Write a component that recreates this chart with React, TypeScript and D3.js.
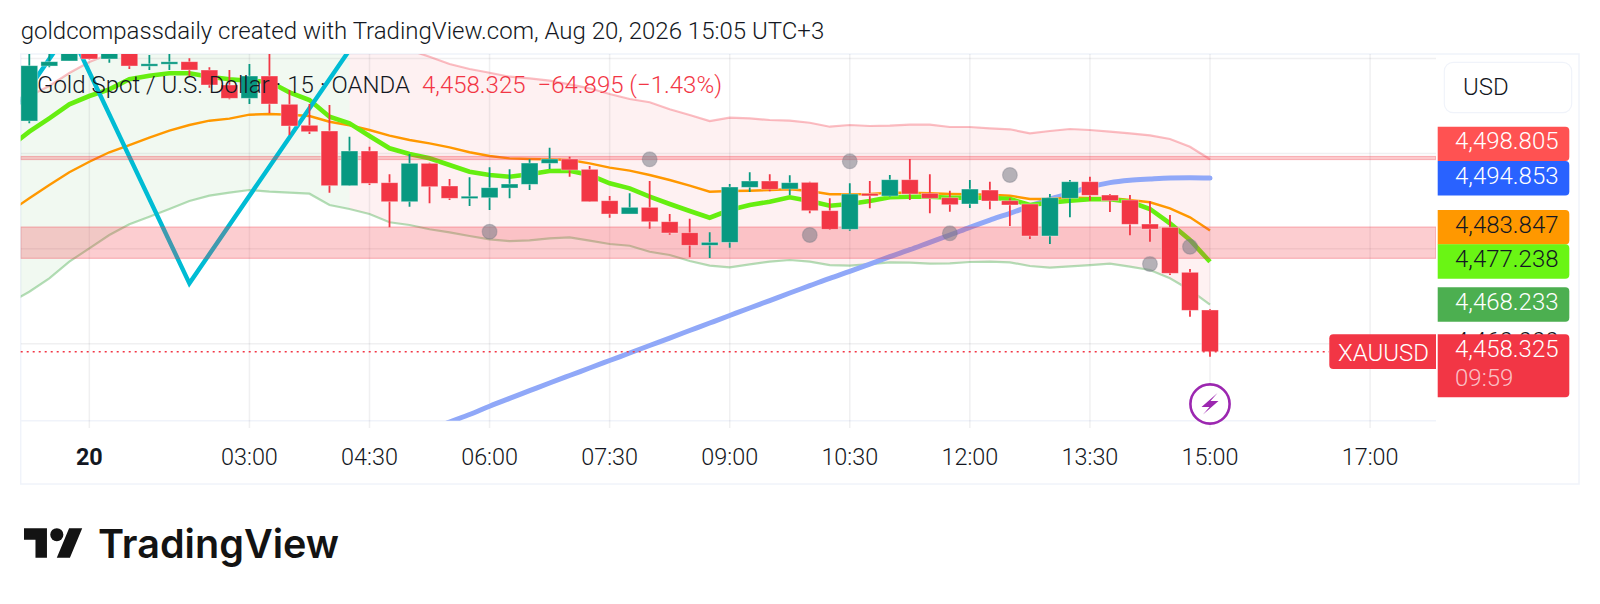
import * as d3 from 'd3';

// [open, high, low, close] for each 15 min bar
const candles: number[][] = [
  [4506.86, 4523.9, 4506.38, 4518.5],
  [4518.43, 4521.8, 4518.16, 4519.34],
  [4519.49, 4522.64, 4519.49, 4521.8],
  [4522.22, 4522.85, 4519.8, 4519.91],
  [4519.91, 4522.64, 4519.13, 4522.22],
  [4521.8, 4522.43, 4517.8, 4518.43],
  [4518.69, 4520.75, 4517.59, 4518.9],
  [4519.11, 4520.96, 4517.59, 4519.32],
  [4519.34, 4520.05, 4516.33, 4517.59],
  [4517.59, 4518.16, 4513.87, 4514.44],
  [4514.44, 4517.59, 4511.43, 4511.64],
  [4511.64, 4518.85, 4510.44, 4516.33],
  [4516.33, 4522.22, 4508.48, 4510.44],
  [4510.38, 4513.38, 4503.92, 4505.81],
  [4505.96, 4510.44, 4504.13, 4504.61],
  [4504.76, 4510.23, 4491.78, 4493.25],
  [4493.25, 4503.56, 4493.25, 4500.55],
  [4500.55, 4501.45, 4493.4, 4493.75],
  [4493.88, 4495.65, 4484.5, 4489.88],
  [4489.88, 4499.92, 4488.83, 4497.96],
  [4497.96, 4498.09, 4489.55, 4493.04],
  [4493.19, 4494.66, 4490.24, 4490.6],
  [4490.83, 4495.02, 4488.98, 4491.04],
  [4490.72, 4497.12, 4488.14, 4492.83],
  [4492.76, 4496.7, 4490.6, 4493.61],
  [4493.54, 4498.8, 4492.34, 4498.02],
  [4497.96, 4501.24, 4496.76, 4498.87],
  [4498.87, 4499.35, 4495.14, 4496.55],
  [4496.7, 4497.39, 4489.88, 4489.88],
  [4490.09, 4491.08, 4486.52, 4487.29],
  [4487.29, 4491.65, 4487.29, 4488.7],
  [4488.7, 4494.24, 4484.2, 4485.67],
  [4485.67, 4487.29, 4482.94, 4483.3],
  [4483.36, 4486.31, 4478.18, 4480.71],
  [4480.71, 4483.44, 4478.04, 4481.34],
  [4481.34, 4493.61, 4480.2, 4492.98],
  [4492.91, 4496.07, 4491.92, 4494.24],
  [4494.24, 4495.65, 4492.07, 4492.49],
  [4492.55, 4495.44, 4491.29, 4493.88],
  [4493.96, 4494.09, 4487.44, 4487.99],
  [4487.99, 4490.6, 4483.93, 4484.08],
  [4484.08, 4493.75, 4483.78, 4491.5],
  [4491.61, 4494.24, 4488.49, 4491.4],
  [4491.08, 4495.5, 4490.93, 4494.51],
  [4494.51, 4498.87, 4490.24, 4491.5],
  [4491.65, 4495.65, 4487.44, 4490.6],
  [4490.72, 4492.2, 4487.78, 4489.25],
  [4489.4, 4494.45, 4488.56, 4492.55],
  [4492.34, 4494.09, 4488.28, 4490.03],
  [4490.09, 4490.6, 4484.77, 4489.19],
  [4489.4, 4489.4, 4482.03, 4482.67],
  [4482.67, 4491.5, 4480.98, 4490.72],
  [4490.6, 4494.45, 4486.6, 4494.09],
  [4494.09, 4495.14, 4490.09, 4491.23],
  [4491.29, 4491.5, 4487.72, 4490.09],
  [4490.24, 4491.29, 4482.81, 4485.13],
  [4485.19, 4489.97, 4481.47, 4484.14],
  [4484.5, 4487.08, 4474.46, 4474.82],
  [4475.03, 4475.72, 4465.69, 4467.03],
  [4467.1, 4467.31, 4457.27, 4458.325],
];

// indicator series start one bar before the first candle, off the left edge
const fastMa = [
  4501.39, 4504.61, 4507.43, 4510.38, 4512.12, 4513.53, 4515.64, 4516.39, 4516.9, 4516.9, 4516.18, 4515.64, 4515.34,
  4515.13, 4512.9, 4511.28, 4507.77, 4506.38, 4503.71, 4501.12, 4499.92, 4499.01, 4497.6, 4496.19, 4495.5, 4495.14,
  4495.65, 4496.34, 4496.41, 4495.5, 4493.75, 4492.7, 4490.93, 4489.4, 4487.93, 4486.52, 4488.14, 4489.19, 4489.88,
  4490.81, 4490.03, 4489.04, 4489.4, 4490.03, 4490.81, 4490.93, 4490.93, 4490.72, 4490.72, 4490.72, 4490.45, 4489.19,
  4489.67, 4490.09, 4490.39, 4490.39, 4489.88, 4488.35, 4485.34, 4481.82, 4477.238,
];
const slowMa = [
  4487.72, 4490.6, 4493.4, 4496.07, 4498.3, 4500.28, 4501.81, 4503.35, 4504.82, 4506.02, 4506.93, 4507.35, 4508.19,
  4508.33, 4508.19, 4507.91, 4506.71, 4505.96, 4504.97, 4503.77, 4502.86, 4502.17, 4501.33, 4500.28, 4499.5, 4499.01,
  4498.87, 4498.8, 4498.66, 4497.96, 4497.04, 4496.41, 4495.5, 4494.45, 4493.25, 4491.99, 4492.13, 4492.2, 4492.34,
  4492.49, 4492.13, 4491.44, 4491.44, 4491.5, 4491.78, 4491.78, 4491.65, 4491.5, 4491.44, 4491.36, 4491.15, 4490.45,
  4490.45, 4490.72, 4490.66, 4490.66, 4490.24, 4489.76, 4488.49, 4486.6, 4483.847,
];
const upperBand = [
  4510.02, 4512.12, 4514.23, 4516.96, 4519.28, 4520.96, 4522.64, 4523.9, 4524.96, 4526.01, 4526.64, 4527.06, 4527.27,
  4527.06, 4526.64, 4526.01, 4525.17, 4524.32, 4523.48, 4522.64, 4521.8, 4520.39, 4518.85, 4517.8, 4517.02, 4516.18,
  4515.85, 4515.34, 4514.58, 4513.74, 4512.54, 4511.49, 4510.8, 4509.32, 4508.12, 4506.86, 4507.56, 4507.43, 4507.07,
  4506.93, 4506.5, 4505.66, 4506.02, 4505.81, 4505.87, 4506.08, 4506.08, 4505.6, 4505.6, 4505.33, 4505.12, 4504.27,
  4504.76, 4505.18, 4504.97, 4504.61, 4504.27, 4503.85, 4503.07, 4501.45, 4498.805,
];
const lowerBand = [
  4468.57, 4470.95, 4473.77, 4477.26, 4480.08, 4482.88, 4485.13, 4486.73, 4488.35, 4490.03, 4491.15, 4491.78, 4492.34,
  4491.99, 4491.78, 4491.57, 4489.19, 4488.35, 4487.29, 4485.55, 4484.98, 4484.08, 4483.44, 4482.67, 4481.97, 4481.61,
  4481.76, 4482.18, 4482.39, 4481.68, 4480.98, 4480.62, 4479.36, 4478.67, 4477.41, 4476.42, 4476.08, 4476.71, 4477.26,
  4477.62, 4477.26, 4476.56, 4476.42, 4476.77, 4477.13, 4477.05, 4476.84, 4476.92, 4477.2, 4477.26, 4477.13, 4476.35,
  4476.0, 4476.29, 4476.56, 4476.84, 4476.21, 4475.51, 4473.77, 4471.3, 4468.233,
];
// long MA is only on screen from bar 20
const longMaStart = 20;
const longMa = [
  4441.85, 4443.53, 4445.11, 4446.85, 4448.5, 4450.12, 4451.74, 4453.32, 4454.89, 4456.47, 4458.05, 4459.63, 4461.2,
  4462.78, 4464.36, 4465.94, 4467.52, 4469.09, 4470.67, 4472.21, 4473.77, 4475.24, 4476.77, 4478.31, 4479.78, 4481.34,
  4482.88, 4484.5, 4486.03, 4487.44, 4488.98, 4490.45, 4491.65, 4492.98, 4493.9, 4494.4, 4494.66, 4494.87, 4494.93,
  4494.853,
];
const zigzag: [number, number][] = [
  [-1, 4507.7],
  [2, 4526.01],
  [8, 4472.71],
  [16, 4521.8],
  [19, 4540.23],
];
const signals: [number, number][] = [
  [23, 4483.57],
  [31, 4498.8],
  [39, 4482.88],
  [41, 4498.38],
  [46, 4483.23],
  [49, 4495.5],
  [56, 4476.77],
  [58, 4480.41],
];
const zones: [number, number][] = [
  [4499.4, 4498.76],
  [4484.56, 4477.97],
];
const bandColorSwitch = 16;
const timeTicks: [number, string][] = [
  [3, '20'],
  [11, '03:00'],
  [17, '04:30'],
  [23, '06:00'],
  [29, '07:30'],
  [35, '09:00'],
  [41, '10:30'],
  [47, '12:00'],
  [53, '13:30'],
  [59, '15:00'],
  [67, '17:00'],
];
const priceTicks = [4460, 4480, 4500, 4520];
const lastPrice = 4458.325;
const priceLabels = [
  { text: '4,498.805', fill: '#ff5252', color: '#fff', top: 126.7, base: 149 },
  { text: '4,494.853', fill: '#2962ff', color: '#fff', top: 161, base: 183.5 },
  { text: '4,483.847', fill: '#ff9800', color: '#131722', top: 210, base: 232.5 },
  { text: '4,477.238', fill: '#6af514', color: '#131722', top: 244.3, base: 267 },
  { text: '4,468.233', fill: '#4caf50', color: '#fff', top: 287.3, base: 310 },
];

const UP = '#089981';
const DOWN = '#f23645';
const FONT = 'Roboto, sans-serif';
const TEXT_WEIGHT = 300;
const TEXT_SIZE = 24;

const paneLeft = 20.7;
const paneRight = 1436;
const paneTop = 54;
const paneBottom = 420.7;

const x = d3.scaleLinear().domain([0, 59]).range([29.3, 1210]);
const y = d3.scaleLinear().domain([lastPrice, 4498.805]).range([351.7, 159.3]);

const seriesLine = d3
  .line<number>()
  .x((_, i) => x(i - 1))
  .y((d) => y(d));

const longLine = d3
  .line<number>()
  .x((_, i) => x(i + longMaStart))
  .y((d) => y(d))
  .curve(d3.curveMonotoneX);

const zigzagLine = d3
  .line<[number, number]>()
  .x((d) => x(d[0]))
  .y((d) => y(d[1]));

const bandArea = d3
  .area<number>()
  .x((i) => x(i - 1))
  .y0((i) => y(lowerBand[i]))
  .y1((i) => y(upperBand[i]));

const bandIdx = upperBand.map((_, i) => i);
const greenBand = bandIdx.filter((i) => i - 1 <= bandColorSwitch);
const redBand = bandIdx.filter((i) => i - 1 >= bandColorSwitch);

const rightRounded = (x0: number, y0: number, w: number, h: number, r: number) =>
  `M${x0},${y0}H${x0 + w - r}Q${x0 + w},${y0} ${x0 + w},${y0 + r}V${y0 + h - r}Q${x0 + w},${y0 + h} ${x0 + w - r},${y0 + h}H${x0}Z`;

const leftRounded = (x0: number, y0: number, w: number, h: number, r: number) =>
  `M${x0 + w},${y0}H${x0 + r}Q${x0},${y0} ${x0},${y0 + r}V${y0 + h - r}Q${x0},${y0 + h} ${x0 + r},${y0 + h}H${x0 + w}Z`;

export default function App() {
  const gridColor = 'rgba(42,46,57,0.07)';
  const labelX = 1437.7;
  const labelW = 131.6;
  return (
    <svg
      width={1600}
      height={604}
      style={{ position: 'absolute', left: 0, top: 0, display: 'block', background: '#fff' }}
      fontFamily={FONT}
    >
      <defs>
        <clipPath id="pane">
          <rect x={paneLeft} y={paneTop} width={paneRight - paneLeft} height={paneBottom - paneTop} />
        </clipPath>
      </defs>

      <text x={20.7} y={38.5} fontSize={TEXT_SIZE} fontWeight={TEXT_WEIGHT} fill="#131722">
        goldcompassdaily created with TradingView.com, Aug 20, 2026 15:05 UTC+3
      </text>

      {/* frame */}
      <rect x={20.7} y={54} width={1558.3} height={430} fill="none" stroke="#f0f3fa" strokeWidth={1.5} />
      <line x1={paneLeft} x2={paneRight} y1={paneBottom} y2={paneBottom} stroke="#f0f3fa" strokeWidth={1.5} />

      <g clipPath="url(#pane)">
        <path d={bandArea(greenBand) || ''} fill="rgba(76,175,80,0.08)" />
        <path d={bandArea(redBand) || ''} fill="rgba(242,54,69,0.07)" />

        {priceTicks.map((p) => (
          <line key={p} x1={paneLeft} x2={paneRight} y1={y(p)} y2={y(p)} stroke={gridColor} strokeWidth={1.5} />
        ))}
      </g>

      {timeTicks.map(([i, label]) => (
        <line key={label} x1={x(i)} x2={x(i)} y1={paneTop} y2={428} stroke={gridColor} strokeWidth={1.5} />
      ))}

      <g clipPath="url(#pane)">
        <path d={seriesLine(upperBand) || ''} fill="none" stroke="rgba(242,54,69,0.32)" strokeWidth={2.2} />
        <path d={seriesLine(lowerBand) || ''} fill="none" stroke="rgba(76,175,80,0.42)" strokeWidth={2.2} />
        <path d={longLine(longMa) || ''} fill="none" stroke="#90a8f8" strokeWidth={5} strokeLinecap="round" />
        <path d={seriesLine(slowMa) || ''} fill="none" stroke="#ff9800" strokeWidth={2.4} />
        <path d={seriesLine(fastMa) || ''} fill="none" stroke="#66ee10" strokeWidth={4.6} />
        <path d={zigzagLine(zigzag) || ''} fill="none" stroke="#00bcd4" strokeWidth={4.4} />

        {zones.map(([top, bottom]) => (
          <rect
            key={top}
            x={paneLeft}
            width={paneRight - paneLeft}
            y={y(top)}
            height={y(bottom) - y(top)}
            fill="rgba(242,54,69,0.25)"
            stroke="rgba(242,54,69,0.3)"
            strokeWidth={1.2}
          />
        ))}

        {candles.map(([o, h, l, c], i) => {
          const color = c >= o ? UP : DOWN;
          const top = y(Math.max(o, c));
          const bottom = y(Math.min(o, c));
          return (
            <g key={i}>
              <line x1={x(i)} x2={x(i)} y1={y(h)} y2={y(l)} stroke={color} strokeWidth={1.8} />
              <rect
                x={x(i) - 8.4}
                width={16.8}
                y={top}
                height={Math.max(bottom - top, 2.4)}
                fill={color}
                stroke="rgba(255,255,255,0.45)"
                strokeWidth={0.8}
              />
            </g>
          );
        })}

        {signals.map(([i, p]) => (
          <circle
            key={i}
            cx={x(i)}
            cy={y(p)}
            r={7.4}
            fill="rgba(120,123,134,0.55)"
            stroke="rgba(120,123,134,0.35)"
            strokeWidth={1.2}
          />
        ))}
      </g>

      {/* last price line */}
      <line
        x1={paneLeft}
        x2={1329}
        y1={y(lastPrice)}
        y2={y(lastPrice)}
        stroke={DOWN}
        strokeWidth={1.6}
        strokeDasharray="2 4"
      />

      {/* legend */}
      <text x={37} y={93.3} fontSize={TEXT_SIZE} fontWeight={TEXT_WEIGHT} fill="#131722">
        Gold Spot / U.S. Dollar · 15 · OANDA
      </text>
      <text x={422} y={93.3} fontSize={TEXT_SIZE} fontWeight={TEXT_WEIGHT} fill={DOWN}>
        4,458.325
      </text>
      <text x={537.5} y={93.3} fontSize={TEXT_SIZE} fontWeight={TEXT_WEIGHT} fill={DOWN}>
        −64.895 (−1.43%)
      </text>

      {/* bolt marker */}
      <g transform={`translate(${x(59)},404)`}>
        <circle r={19.6} fill="#fff" stroke="#9c27b0" strokeWidth={2.6} />
        <path d="M7.5,-11L-8.5,3H-0.5L-7,10.5L8.5,-3H0.5Z" fill="#9c27b0" />
      </g>

      {/* price axis */}
      <rect x={1444.3} y={62.3} width={127.4} height={50.4} rx={9} fill="#fff" stroke="#f0f3fa" strokeWidth={1.2} />
      <text x={1463} y={95} fontSize={TEXT_SIZE} fontWeight={TEXT_WEIGHT} fill="#131722">
        USD
      </text>

      <text x={1455} y={348.5} fontSize={TEXT_SIZE} fontWeight={TEXT_WEIGHT} fill="#131722">
        {d3.format(',.3f')(4460)}
      </text>

      {priceLabels.map((d) => (
        <g key={d.text}>
          <path d={rightRounded(labelX, d.top, labelW, 34.4, 4)} fill={d.fill} />
          <text x={1455} y={d.base} fontSize={TEXT_SIZE} fontWeight={TEXT_WEIGHT} fill={d.color}>
            {d.text}
          </text>
        </g>
      ))}

      <path d={rightRounded(labelX, 334.3, labelW, 63, 4)} fill={DOWN} />
      <text x={1455} y={357.3} fontSize={TEXT_SIZE} fontWeight={TEXT_WEIGHT} fill="#fff">
        {d3.format(',.3f')(lastPrice)}
      </text>
      <text x={1455} y={385.7} fontSize={TEXT_SIZE} fontWeight={TEXT_WEIGHT} fill="#fff" fillOpacity={0.7}>
        09:59
      </text>

      <path d={leftRounded(1329.3, 334.3, 106.7, 34.7, 4)} fill={DOWN} />
      <text x={1338} y={360.7} fontSize={TEXT_SIZE} fontWeight={TEXT_WEIGHT} fill="#fff">
        XAUUSD
      </text>

      {/* time axis */}
      {timeTicks.map(([i, label]) => (
        <text
          key={label}
          x={x(i)}
          y={464.5}
          textAnchor="middle"
          fontSize={23.4}
          fontWeight={label === '20' ? 700 : TEXT_WEIGHT}
          fill="#131722"
        >
          {label}
        </text>
      ))}

      {/* logo */}
      <g transform="translate(24,521.6) scale(1.64)" fill="#131313">
        <path d="M14 22H7V11H0V4h14v18zM28 22h-8l7.5-18h8L28 22z" />
        <circle cx={20} cy={8} r={4} />
      </g>
      <text
        x={98}
        y={558}
        fontSize={40}
        fontFamily="Inter, sans-serif"
        fontWeight={600}
        fill="#131313"
        textLength={241}
        lengthAdjust="spacingAndGlyphs"
      >
        TradingView
      </text>
    </svg>
  );
}
